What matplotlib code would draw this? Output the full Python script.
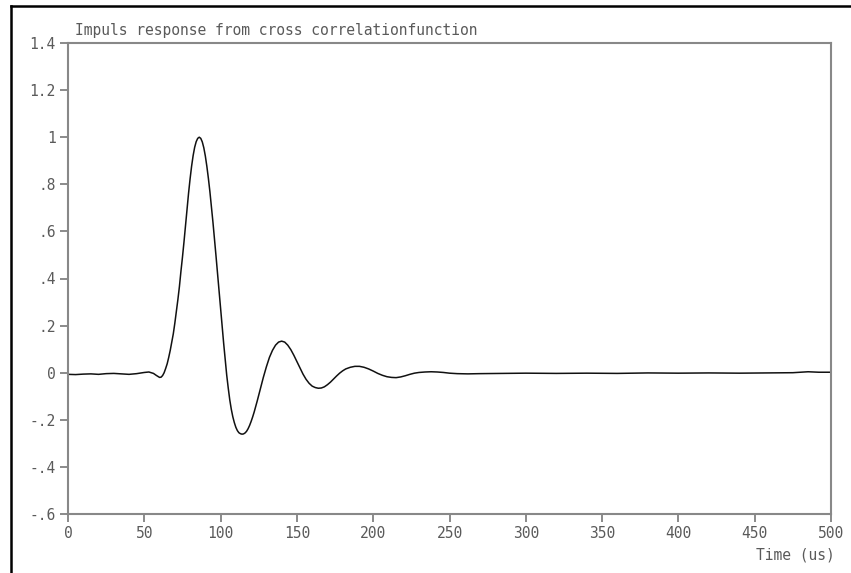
import matplotlib
matplotlib.use("Agg")
import matplotlib.pyplot as plt
from matplotlib.lines import Line2D

# Data
time_us = [0, 5, 10, 15, 20, 25, 30, 35, 40, 45, 50, 53, 56, 58, 60, 61, 62, 63, 64, 65,
           66, 67, 68, 69, 70, 71, 72, 73, 74, 75, 76, 77, 78, 79, 80, 81, 82, 83, 84, 85,
           86, 87, 88, 89, 90, 91, 92, 93, 94, 95, 96, 97, 98, 99, 100, 101, 102, 103, 104,
           105, 106, 107, 108, 109, 110, 111, 112, 113, 114, 115, 116, 117, 118, 119, 120,
           121, 122, 123, 124, 125, 126, 127, 128, 130, 132, 134, 136, 138, 140, 142, 144,
           146, 148, 150, 152, 154, 156, 158, 160, 162, 164, 166, 168, 170, 172, 174, 176,
           178, 180, 182, 185, 188, 191, 194, 197, 200, 203, 206, 209, 212, 215, 218, 221,
           224, 227, 230, 234, 238, 242, 246, 250, 255, 262, 270, 285, 300, 320, 340, 360,
           380, 400, 420, 440, 460, 475, 485, 492, 500]
response = [-0.007, -0.008, -0.006, -0.005, -0.007, -0.004, -0.003, -0.005, -0.007, -0.004,
            0.001, 0.003, -0.003, -0.012, -0.020, -0.019, -0.012, 0.000, 0.018, 0.038,
            0.065, 0.095, 0.130, 0.165, 0.210, 0.260, 0.310, 0.365, 0.430, 0.490,
            0.555, 0.625, 0.695, 0.762, 0.823, 0.877, 0.922, 0.957, 0.981, 0.995,
            1.000, 0.995, 0.980, 0.955, 0.920, 0.876, 0.825, 0.768, 0.705, 0.638,
            0.568, 0.495, 0.420, 0.345, 0.270, 0.195, 0.125, 0.055, -0.010,
            -0.065, -0.115, -0.155, -0.187, -0.212, -0.232, -0.246, -0.255, -0.259, -0.261,
            -0.260, -0.256, -0.249, -0.238, -0.224, -0.207,
            -0.188, -0.167, -0.144, -0.120, -0.095, -0.070, -0.045, -0.020, 0.025, 0.065,
            0.095, 0.117, 0.130, 0.134, 0.130, 0.117,
            0.098, 0.074, 0.047, 0.020, -0.006, -0.028, -0.045, -0.057, -0.063, -0.066,
            -0.065, -0.060, -0.051, -0.040, -0.027, -0.014,
            -0.002, 0.008, 0.016, 0.023, 0.027, 0.027, 0.023, 0.016, 0.007, -0.003,
            -0.011, -0.017, -0.020, -0.021, -0.018, -0.013,
            -0.007, -0.002, 0.001, 0.003, 0.004, 0.003, 0.001, -0.002, -0.004, -0.005,
            -0.004, -0.003, -0.002, -0.003, -0.002, -0.003,
            -0.001, -0.002, -0.001, -0.002, -0.001, 0.000, 0.004, 0.002, 0.002]

x_ticks = [0, 50, 100, 150, 200, 250, 300, 350, 400, 450, 500]
y_ticks = [-0.6, -0.4, -0.2, 0.0, 0.2, 0.4, 0.6, 0.8, 1.0, 1.2, 1.4]
y_tick_labels = ["-.6", "-.4", "-.2", "0", ".2", ".4", ".6", ".8", "1", "1.2", "1.4"]
title = "Impuls response from cross correlationfunction"
x_label = "Time (us)"

W, H = 851, 573
fig = plt.figure(figsize=(W / 100, H / 100), dpi=100)
fig.patch.set_facecolor("white")

left, right, bottom, top = 68, 831, 514, 43
ax = fig.add_axes([left / W, 1 - bottom / H, (right - left) / W, (bottom - top) / H])

ax.plot(time_us, response, color="#111111", lw=1.1)
ax.set_xlim(0, 500)
ax.set_ylim(-0.6, 1.4)

font = dict(family="DejaVu Sans Mono", size=10.5)
txt_color = "#5a5a5a"
ax.set_xticks(x_ticks)
ax.set_xticklabels([str(v) for v in x_ticks], fontdict=font, color=txt_color)
ax.set_yticks(y_ticks)
ax.set_yticklabels(y_tick_labels, fontdict=font, color=txt_color)
ax.tick_params(direction="out", length=6, width=1.2, color="#777777", pad=3)

for s in ax.spines.values():
    s.set_color("#888888")
    s.set_linewidth(1.5)

fig.text(75 / W, 1 - 30 / H, title, ha="left", va="center", color=txt_color, **font)
fig.text(835 / W, 1 - 555 / H, x_label, ha="right", va="center", color=txt_color, **font)

# Outer frame (top and left edges visible)
fig.add_artist(Line2D([11 / W, 1.0], [1 - 6 / H, 1 - 6 / H], transform=fig.transFigure,
                      color="black", lw=1.8))
fig.add_artist(Line2D([11 / W, 11 / W], [0.0, 1 - 6 / H], transform=fig.transFigure,
                      color="black", lw=1.8))

fig.savefig("out.png", dpi=100)
